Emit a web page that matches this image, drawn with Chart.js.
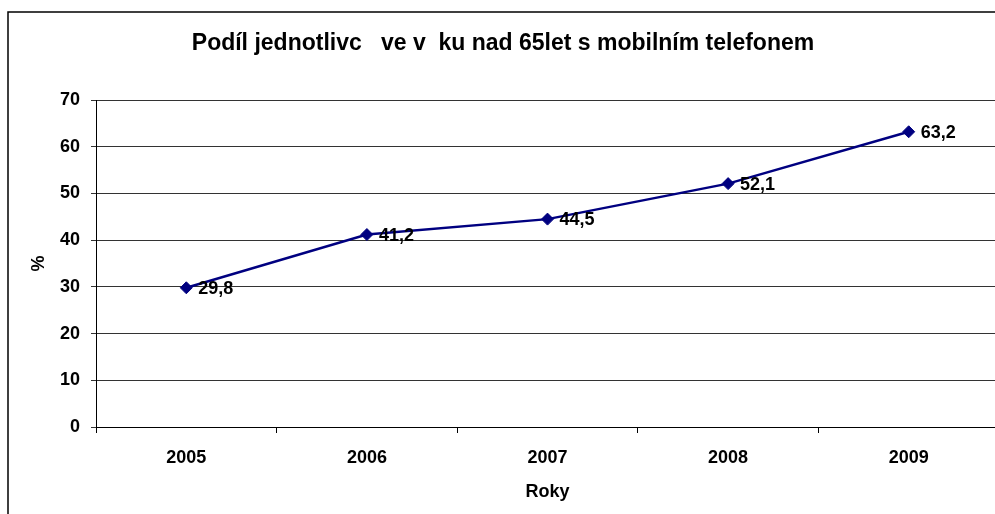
<!DOCTYPE html>
<html>
<head>
<meta charset="utf-8">
<style>
  html, body { margin: 0; padding: 0; background: #fff; overflow: hidden; }
  #wrap { width: 995px; height: 514px; overflow: hidden; position: relative; }
  #chartCanvas { position: absolute; left: 0; top: 0; }
</style>
</head>
<body>
<div id="wrap"><canvas id="chartCanvas" width="1006" height="514"></canvas></div>

<script src="https://cdn.jsdelivr.net/npm/chart.js@4"></script>
<script>
  const years = ['2005', '2006', '2007', '2008', '2009']
  const shares = [29.8, 41.2, 44.5, 52.1, 63.2]
  const titleText = 'Podíl jednotlivc   ve v  ku nad 65let s mobilním telefonem'

  const font = '"Liberation Sans", Arial, sans-serif'

  const frame = {
    id: 'frame',
    beforeDraw(chart) {
      const ctx = chart.ctx
      ctx.save()
      ctx.strokeStyle = '#000'
      ctx.lineWidth = 1.5
      ctx.strokeRect(8, 12, 1100, 600)
      ctx.restore()
    }
  }

  const valueLabels = {
    id: 'valueLabels',
    afterDatasetsDraw(chart) {
      const ctx = chart.ctx
      const meta = chart.getDatasetMeta(0)
      ctx.save()
      ctx.font = 'bold 18px ' + font
      ctx.fillStyle = '#000'
      ctx.textBaseline = 'middle'
      meta.data.forEach((p, i) => {
        ctx.fillText(String(shares[i]).replace('.', ','), p.x + 12, p.y + 1)
      })
      ctx.restore()
    }
  }

  new Chart(document.getElementById('chartCanvas'), {
    type: 'line',
    data: {
      labels: years,
      datasets: [{
        data: shares,
        borderColor: '#000080',
        backgroundColor: '#000080',
        borderWidth: 2.5,
        pointStyle: 'rectRot',
        pointRadius: 6,
        pointBorderWidth: 1,
        tension: 0,
      }],
    },
    options: {
      responsive: false,
      animation: false,
      devicePixelRatio: 1,
      layout: {padding: 0},
      plugins: {
        legend: {display: false},
        tooltip: {enabled: false},
        title: {
          display: true,
          text: titleText,
          color: '#000',
          font: {family: font, size: 23, weight: 'bold'},
          padding: {top: 30.2, bottom: 42.2},
        },
      },
      scales: {
        x: {
          offset: true,
          grid: {offset: true, drawOnChartArea: false, drawTicks: true, tickLength: 6, color: '#000'},
          border: {color: '#000', width: 1},
          ticks: {color: '#000', font: {family: font, size: 18, weight: 'bold'}, padding: 14, maxRotation: 0},
          title: {display: true, text: 'Roky', color: '#000', font: {family: font, size: 18, weight: 'bold'}, padding: {top: 0, bottom: 11}},
          afterFit: (scale) => { scale.height = 87 },
        },
        y: {
          min: 0,
          max: 70,
          ticks: {stepSize: 10, color: '#000', font: {family: font, size: 18, weight: 'bold'}, padding: 11},
          grid: {color: '#333', lineWidth: 1, tickLength: 5},
          border: {color: '#000', width: 1},
          title: {display: true, text: '%', color: '#000', font: {family: font, size: 18, weight: 'bold'}, padding: {top: 28, bottom: 0}},
          afterFit: (scale) => { scale.width = 96 },
        },
      },
    },
    plugins: [frame, valueLabels],
  })
</script>
</body>
</html>
